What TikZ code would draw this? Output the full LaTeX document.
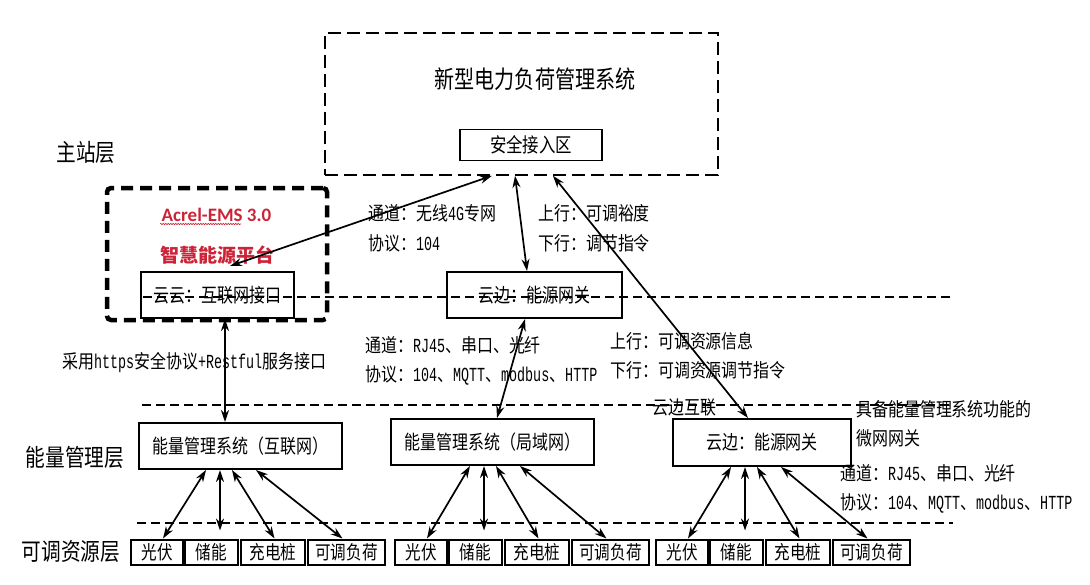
\documentclass[tikz,border=0pt]{standalone}
\usepackage{fontspec}
\setmainfont{Noto Sans CJK SC}
\newfontfamily\heiti[FakeStretch=0.82]{Noto Sans CJK SC}
\newfontfamily\songti[FakeStretch=0.84]{Noto Sans CJK SC}
\newfontfamily\latfont[FakeStretch=0.67, Scale=1.05]{Liberation Mono}
\newfontfamily\calibri{Carlito}
\newcommand\lat[1]{{\latfont #1}}
\usetikzlibrary{arrows.meta,decorations.pathmorphing}
\definecolor{emsred}{RGB}{205,35,55}

\tikzset{
  box/.style={draw, line width=2pt, inner sep=0pt, font=\heiti\fontsize{19.5}{19.5}\selectfont},
  res/.style={draw, line width=2pt, inner sep=0pt, minimum height=25pt, font=\heiti\fontsize{19}{19}\selectfont},
  note/.style={align=left, inner sep=0pt, anchor=west, font=\songti\fontsize{19}{28.5}\selectfont},
  layer/.style={inner sep=0pt, font=\heiti\fontsize{24}{24}\selectfont},
  sep/.style={dash pattern=on 9pt off 5pt, line width=1.3pt},
  link/.style={line width=1.7pt, {Stealth[length=12pt,width=8pt]}-{Stealth[length=12pt,width=8pt]}}
}

\begin{document}
\begin{tikzpicture}[x=1pt, y=-1pt]
\useasboundingbox (0,0) rectangle (1090,584);
% master station
\node[draw, dash pattern=on 13pt off 6pt, line width=1.5pt, minimum width=393pt, minimum height=142pt] (sys) at (521.5,104) {};
\node[layer, font=\heiti\fontsize{24.5}{24.5}\selectfont] (systitle) at (535,79) {新型电力负荷管理系统};
\node[draw, line width=1.5pt, inner sep=0pt, minimum width=142pt, minimum height=31pt, font=\heiti\fontsize{20}{20}\selectfont] (aq) at (531,145) {安全接入区};
\node[layer] (zz) at (86,152) {主站层};
% platform
\node[draw, line width=4.5pt, dash pattern=on 12pt off 7pt, rounded corners=4pt, minimum width=220pt, minimum height=132pt] (acrel) at (217,254) {};
\node[text=emsred, font=\calibri\bfseries\fontsize{19}{19}\selectfont] (acreltxt) at (216.5,215) {Acrel-EMS 3.0};
\draw[emsred, line width=0.6pt, decorate, decoration={snake, amplitude=0.7pt, segment length=2.5pt}] (160,224) -- (241,224);
\node[text=emsred, font=\bfseries\fontsize{19}{19}\selectfont] (zhny) at (217.5,255) {智慧能源平台};
\node[box, minimum width=153pt, minimum height=46pt] (yy) at (217.5,295) {云云：互联网接口};
\node[box, minimum width=175pt, minimum height=46pt] (yb) at (534.5,295) {云边：能源网关};
% energy management
\node[box, minimum width=203pt, minimum height=46pt] (ems1) at (240.5,446) {能量管理系统（互联网）};
\node[box, minimum width=203pt, minimum height=46pt] (ems2) at (492.5,442) {能量管理系统（局域网）};
\node[box, minimum width=178pt, minimum height=47pt] (ge) at (762,442.5) {云边：能源网关};
\node[layer] (nl) at (75,457) {能量管理层};
\node[layer] (kt) at (71,552) {可调资源层};
% notes
\node[note, font=\songti\fontsize{19}{30}\selectfont] (ch1) at (368,228) {通道：无线\lat{4G}专网\\协议：\lat{104}};
\node[note, font=\songti\fontsize{19}{30}\selectfont] (ud1) at (538,228) {上行：可调裕度\\下行：调节指令};
\node[note] (ch2) at (365,361) {通道：\lat{RJ45}、串口、光纤\\协议：\lat{104}、\lat{MQTT}、\lat{modbus}、\lat{HTTP}};
\node[note] (ud2) at (610,355.5) {上行：可调资源信息\\下行：可调资源调节指令};
\node[note] (hs) at (62,362) {采用\lat{https}安全协议\lat{+Restful}服务接口};
\node[note] (hl) at (652,407) {云边互联};
\node[note] (jb) at (856,424) {具备能量管理系统功能的\\微网网关};
\node[note] (ch3) at (840,489) {通道：\lat{RJ45}、串口、光纤\\协议：\lat{104}、\lat{MQTT}、\lat{modbus}、\lat{HTTP}};
% links
\draw[link] ([xshift=12.5pt,yshift=5pt]yy.north) -- ([xshift=-29.5pt]sys.south);
\draw[link] ([xshift=-6.5pt]sys.south) -- ([xshift=-7.5pt]yb.north);
\draw[link] ([xshift=31.5pt]sys.south) -- ([xshift=-14pt]ge.north);
\draw[link] ([xshift=7.5pt]yy.south) -- ([xshift=-15.5pt]ems1.north);
\draw[link] ([xshift=4.5pt]ems2.north) -- ([xshift=-9.5pt]yb.south);
% resources
\foreach \g/\s/\top in {1/131/ems1, 2/395/ems2, 3/656/ge} {
  \node[res, minimum width=52pt] (pv\g) at (\s+26,552) {光伏};
  \node[res, minimum width=53pt] (es\g) at (\s+80.5,552) {储能};
  \node[res, minimum width=64pt] (cp\g) at (\s+142,552) {充电桩};
  \node[res, minimum width=77pt] (ld\g) at (\s+215.5,552) {可调负荷};
  \draw[link] ({\s+75},0 |- \top.south) -- ([xshift=6pt]pv\g.north);
  \draw[link] ({\s+89},0 |- \top.south) -- ([xshift=8.5pt,yshift=8pt]es\g.north);
  \draw[link] ({\s+101},0 |- \top.south) -- ([xshift=1.5pt]cp\g.north);
  \draw[link] ({\s+125},0 |- \top.south) -- ([xshift=-4pt]ld\g.north);
}
% layer lines
\draw[sep] (143,297) -- (953,297);
\draw[sep] (142,405) -- (953,405);
\draw[sep] (137,523) -- (953,523);
\end{tikzpicture}
\end{document}
